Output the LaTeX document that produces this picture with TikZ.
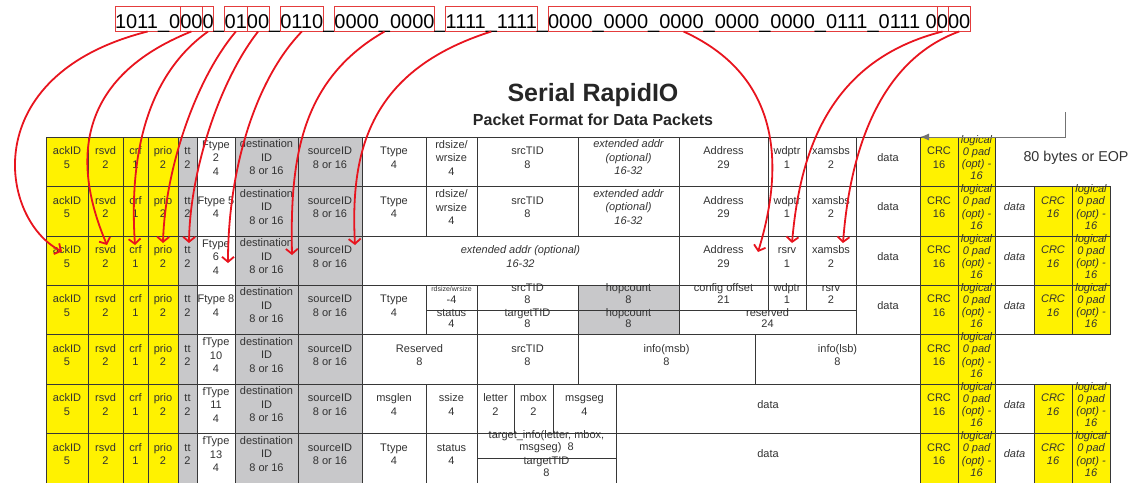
\documentclass[tikz,border=0pt]{standalone}
\usepackage{fontspec}
\setmainfont{Liberation Sans}
\usepackage{xcolor}
\usepackage{tikz}
\usetikzlibrary{arrows.meta, positioning, fit}

\definecolor{srioyellow}{RGB}{255,242,0}
\definecolor{sriogray}{RGB}{200,200,202}
\definecolor{rulegray}{RGB}{55,55,55}
\definecolor{inkgray}{RGB}{50,50,50}
\definecolor{markred}{RGB}{232,20,30}
\definecolor{boxred}{RGB}{228,60,60}

\begin{document}
\begin{tikzpicture}[
    x=1pt, y=-1pt,
    cell/.style={draw=rulegray, line width=0.8pt, inner sep=0pt, outer sep=0pt, align=center, text=inkgray, font=\fontsize{11}{13.5}\selectfont},
    ycell/.style={cell, fill=srioyellow},
    gcell/.style={cell, fill=sriogray},
    icell/.style={cell, font=\fontsize{11}{13.5}\selectfont\itshape},
    iycell/.style={ycell, font=\fontsize{11}{13.5}\selectfont\itshape},
    pad/.style={ycell, font=\fontsize{11}{12.2}\selectfont\itshape},
    half/.style={cell, font=\fontsize{11}{11.5}\selectfont},
    ghalf/.style={half, fill=sriogray},
    bit/.style={draw=boxred, line width=0.8pt, inner xsep=0pt, inner ysep=1.5pt, outer sep=0pt, text height=20pt, text depth=2pt, font=\fontsize{20}{24}\selectfont},
    gap/.style={bit, draw=none},
    arr/.style={draw=markred, line width=1.8pt, -{Straight Barb[length=5pt,width=12pt]}},
    back/.style={draw=black!55, line width=1pt, -{Latex[length=9pt,width=7pt]}}
]
\useasboundingbox (0,0) rectangle (1129,482);

% bit string
\node[bit, anchor=west] (b1) at (115,19) {1011\_0};
\node[bit, right=0pt of b1] (b2) {00};
\node[bit, right=0pt of b2] (b3) {0};
\node[gap, right=0pt of b3] (g1) {\_};
\node[bit, right=0pt of g1] (b4) {01};
\node[bit, right=0pt of b4] (b5) {00};
\node[gap, right=0pt of b5] (g2) {\_};
\node[bit, right=0pt of g2] (b6) {0110};
\node[gap, right=0pt of b6] (g3) {\_};
\node[bit, right=0pt of g3] (b7) {0000\_0000};
\node[gap, right=0pt of b7] (g4) {\_};
\node[bit, right=0pt of g4] (b8) {1111\_1111};
\node[gap, right=0pt of b8] (g5) {\_};
\node[bit, right=0pt of g5] (b9) {0000\_0000\_0000\_0000\_0000\_0111\_0111 0};
\node[bit, right=0pt of b9] (b10) {0};
\node[bit, right=0pt of b10] (b11) {00};

% title
\node[font=\fontsize{25}{30}\selectfont\bfseries, text=black!85] (title) at (593,95) {Serial RapidIO};
\node[font=\fontsize{16}{19}\selectfont\bfseries, text=black!85, below=0pt of title] (subtitle) {Packet Format for Data Packets};

% header part, same in every row
\foreach \n/\ya/\yb/\ft in {1/137/186/{Ftype\\2\\4}, 2/186/236/{Ftype 5\\4}, 3/236/285/{Ftype\\6\\4}, 4/285/334/{Ftype 8\\4}, 5/334/384/{fType\\10\\4}, 6/384/433/{fType\\11\\4}, 7/433/483/{fType\\13\\4}} {
  \node[ycell, fit={(46,\ya) (88,\yb)}] (ack\n) {ackID\\5};
  \node[ycell, fit={(88,\ya) (123,\yb)}] (rsvd\n) {rsvd\\2};
  \node[ycell, fit={(123,\ya) (148,\yb)}] (crf\n) {crf\\1};
  \node[ycell, fit={(148,\ya) (178,\yb)}] (prio\n) {prio\\2};
  \node[gcell, fit={(178,\ya) (197,\yb)}] (tt\n) {tt\\2};
  \node[cell, fit={(197,\ya) (235,\yb)}] (ftype\n) {\ft};
  \node[gcell, fit={(235,\ya) (298,\yb)}] (dest\n) {destination\\ID\\8 or 16};
  \node[gcell, fit={(298,\ya) (362,\yb)}] (src\n) {sourceID\\8 or 16};
}

% row 1
\node[cell, fit={(362,137) (426,186)}] (ttype1) {Ttype\\4};
\node[cell, fit={(426,137) (477,186)}] (size1) {rdsize/\\wrsize\\4};
\node[cell, fit={(477,137) (578,186)}] (stid1) {srcTID\\8};
\node[icell, fit={(578,137) (679,186)}] (ext1) {extended addr\\(optional)\\16-32};
\node[cell, fit={(679,137) (768,186)}] (addr1) {Address\\29};
\node[cell, fit={(768,137) (806,186)}] (wdptr1) {wdptr\\1};
\node[cell, fit={(806,137) (856,186)}] (xam1) {xamsbs\\2};
\node[cell, fit={(856,137) (920,186)}] (data1) {data};
\node[ycell, fit={(920,137) (958,186)}] (crc1) {CRC\\16};
\node[pad, fit={(958,137) (995,186)}] (pad1) {logical\\0 pad\\(opt) -\\16};
\node[anchor=west, text=inkgray, font=\fontsize{14.3}{17}\selectfont] (limit) at (1020,158) {80 bytes or EOP};
\coordinate (loop) at (1065,112);

% row 2
\node[cell, fit={(362,186) (426,236)}] (ttype2) {Ttype\\4};
\node[cell, fit={(426,186) (477,236)}] (size2) {rdsize/\\wrsize\\4};
\node[cell, fit={(477,186) (578,236)}] (stid2) {srcTID\\8};
\node[icell, fit={(578,186) (679,236)}] (ext2) {extended addr\\(optional)\\16-32};
\node[cell, fit={(679,186) (768,236)}] (addr2) {Address\\29};
\node[cell, fit={(768,186) (806,236)}] (wdptr2) {wdptr\\1};
\node[cell, fit={(806,186) (856,236)}] (xam2) {xamsbs\\2};
\node[cell, fit={(856,186) (920,236)}] (data2) {data};
\node[ycell, fit={(920,186) (958,236)}] (crc2) {CRC\\16};
\node[pad, fit={(958,186) (995,236)}] (pad2) {logical\\0 pad\\(opt) -\\16};
\node[icell, fit={(995,186) (1034,236)}] (idata2) {data};
\node[iycell, fit={(1034,186) (1072,236)}] (icrc2) {CRC\\16};
\node[pad, fit={(1072,186) (1110,236)}] (ipad2) {logical\\0 pad\\(opt) -\\16};

% row 3
\node[icell, fit={(362,236) (679,285)}] (ext3) {extended addr (optional)\\16-32};
\node[cell, fit={(679,236) (768,285)}] (addr3) {Address\\29};
\node[cell, fit={(768,236) (806,285)}] (rsrv3) {rsrv\\1};
\node[cell, fit={(806,236) (856,285)}] (xam3) {xamsbs\\2};
\node[cell, fit={(856,236) (920,285)}] (data3) {data};
\node[ycell, fit={(920,236) (958,285)}] (crc3) {CRC\\16};
\node[pad, fit={(958,236) (995,285)}] (pad3) {logical\\0 pad\\(opt) -\\16};
\node[icell, fit={(995,236) (1034,285)}] (idata3) {data};
\node[iycell, fit={(1034,236) (1072,285)}] (icrc3) {CRC\\16};
\node[pad, fit={(1072,236) (1110,285)}] (ipad3) {logical\\0 pad\\(opt) -\\16};

% row 4
\node[cell, fit={(362,285) (426,334)}] (ttype4) {Ttype\\4};
\node[half, fit={(426,285) (477,310)}] (size4) {{\fontsize{7}{8}\selectfont rdsize/wrsize}\\-4};
\node[half, fit={(477,285) (578,310)}] (stid4) {srcTID\\8};
\node[ghalf, fit={(578,285) (679,310)}] (hopa4) {hopcount\\8};
\node[half, fit={(679,285) (768,310)}] (cfg4) {config offset\\21};
\node[half, fit={(768,285) (806,310)}] (wdptr4) {wdptr\\1};
\node[half, fit={(806,285) (856,310)}] (rsrv4) {rsrv\\2};
\node[half, fit={(426,310) (477,334)}] (status4) {status\\4};
\node[half, fit={(477,310) (578,334)}] (ttid4) {targetTID\\8};
\node[ghalf, fit={(578,310) (679,334)}] (hopb4) {hopcount\\8};
\node[half, fit={(679,310) (856,334)}] (resv4) {reserved\\24};
\node[cell, fit={(856,285) (920,334)}] (data4) {data};
\node[ycell, fit={(920,285) (958,334)}] (crc4) {CRC\\16};
\node[pad, fit={(958,285) (995,334)}] (pad4) {logical\\0 pad\\(opt) -\\16};
\node[icell, fit={(995,285) (1034,334)}] (idata4) {data};
\node[iycell, fit={(1034,285) (1072,334)}] (icrc4) {CRC\\16};
\node[pad, fit={(1072,285) (1110,334)}] (ipad4) {logical\\0 pad\\(opt) -\\16};

% row 5
\node[cell, fit={(362,334) (477,384)}] (resv5) {Reserved\\8};
\node[cell, fit={(477,334) (578,384)}] (stid5) {srcTID\\8};
\node[cell, fit={(578,334) (755,384)}] (msb5) {info(msb)\\8};
\node[cell, fit={(755,334) (920,384)}] (lsb5) {info(lsb)\\8};
\node[ycell, fit={(920,334) (958,384)}] (crc5) {CRC\\16};
\node[pad, fit={(958,334) (995,384)}] (pad5) {logical\\0 pad\\(opt) -\\16};

% row 6
\node[cell, fit={(362,384) (426,433)}] (mlen6) {msglen\\4};
\node[cell, fit={(426,384) (477,433)}] (ssize6) {ssize\\4};
\node[cell, fit={(477,384) (514,433)}] (letter6) {letter\\2};
\node[cell, fit={(514,384) (553,433)}] (mbox6) {mbox\\2};
\node[cell, fit={(553,384) (616,433)}] (mseg6) {msgseg\\4};
\node[cell, fit={(616,384) (920,433)}] (data6) {data};
\node[ycell, fit={(920,384) (958,433)}] (crc6) {CRC\\16};
\node[pad, fit={(958,384) (995,433)}] (pad6) {logical\\0 pad\\(opt) -\\16};
\node[icell, fit={(995,384) (1034,433)}] (idata6) {data};
\node[iycell, fit={(1034,384) (1072,433)}] (icrc6) {CRC\\16};
\node[pad, fit={(1072,384) (1110,433)}] (ipad6) {logical\\0 pad\\(opt) -\\16};

% row 7
\node[cell, fit={(362,433) (426,483)}] (ttype7) {Ttype\\4};
\node[cell, fit={(426,433) (477,483)}] (status7) {status\\4};
\node[half, fit={(477,433) (616,458)}] (tinfo7) {target\_info(letter, mbox,\\msgseg)\ \ 8};
\node[half, fit={(477,458) (616,483)}] (ttid7) {targetTID\\8};
\node[cell, fit={(616,433) (920,483)}] (data7) {data};
\node[ycell, fit={(920,433) (958,483)}] (crc7) {CRC\\16};
\node[pad, fit={(958,433) (995,483)}] (pad7) {logical\\0 pad\\(opt) -\\16};
\node[icell, fit={(995,433) (1034,483)}] (idata7) {data};
\node[iycell, fit={(1034,433) (1072,483)}] (icrc7) {CRC\\16};
\node[pad, fit={(1072,433) (1110,483)}] (ipad7) {logical\\0 pad\\(opt) -\\16};

\draw[back] (loop) |- (crc1.north west);

% bits to fields of the Ftype 6 row
\draw[arr] (b1.south) .. controls (-25,75) and (0,220) .. ([shift={(-5,-9)}]ack3.center);
\draw[arr] (b2.south) .. controls (70,80) and (75,170) .. ([shift={(1.5,-15.5)}]rsvd3.center);
\draw[arr] (b3.south) .. controls (140,80) and (130,170) .. ([shift={(-0.5,-15.5)}]crf3.center);
\draw[arr] (b4.south) .. controls (195,80) and (165,170) .. ([shift={(0,-17.5)}]prio3.center);
\draw[arr] (b5.south) .. controls (220,80) and (190,170) .. ([shift={(1.5,-17.5)}]tt3.center);
\draw[arr] (b6.south) .. controls (255,80) and (228,170) .. ([shift={(12,2.5)}]ftype3.center);
\draw[arr] (b7.south) .. controls (300,80) and (290,160) .. ([shift={(25.5,-5.5)}]dest3.center);
\draw[arr] (b8.south) .. controls (370,70) and (350,150) .. ([shift={(25,-15.5)}]src3.center);
\draw[arr] ([shift={(-59,0)}]b9.south) .. controls (790,80) and (780,180) .. ([shift={(34.5,-8.5)}]addr3.center);
\draw[arr] (b10.south) .. controls (830,60) and (800,150) .. ([shift={(5,-17.5)}]rsrv3.center);
\draw[arr] (b11.south) .. controls (880,60) and (850,150) .. ([shift={(12,-17.5)}]xam3.center);

\end{tikzpicture}
\end{document}
